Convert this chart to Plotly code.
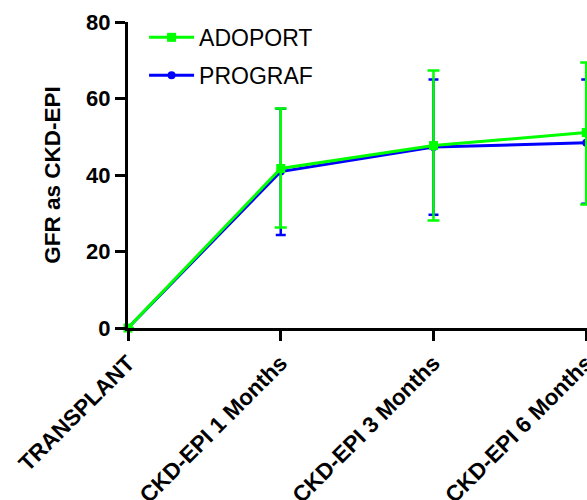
import plotly.graph_objects as go

categories = ["TRANSPLANT", "CKD-EPI 1 Months", "CKD-EPI 3 Months", "CKD-EPI 6 Months"]
adoport_mean = [0, 41.7, 47.7, 51.1]
adoport_upper = [0, 57.4, 67.3, 69.4]
adoport_lower = [0, 26.3, 28.1, 32.3]
prograf_mean = [0, 40.9, 47.3, 48.4]
prograf_upper = [0, 57.3, 65.0, 65.0]
prograf_lower = [0, 24.3, 29.6, 32.5]

FONT = "Arial, Liberation Sans, sans-serif"

def err(mean, up, lo):
    return dict(type="data", symmetric=False,
                array=[u - m for u, m in zip(up, mean)],
                arrayminus=[m - l for m, l in zip(mean, lo)])

fig = go.Figure()
fig.add_trace(go.Scatter(
    x=categories, y=prograf_mean, name="PROGRAF", mode="lines+markers",
    legendgroup="b", legendrank=2,
    line=dict(color="#0000ff", width=3),
    marker=dict(symbol="circle", size=8, color="#0000ff"),
    error_y=dict(**err(prograf_mean, prograf_upper, prograf_lower), color="#0000ff", thickness=2.5, width=5),
    cliponaxis=False,
))
fig.add_trace(go.Scatter(
    x=categories, y=adoport_mean, name="ADOPORT", mode="lines+markers",
    legendgroup="a", legendrank=1,
    line=dict(color="#00ff00", width=3),
    marker=dict(symbol="square", size=9, color="#00ff00"),
    error_y=dict(**err(adoport_mean, adoport_upper, adoport_lower), color="#00ff00", thickness=2.5, width=6),
    cliponaxis=False,
))

fig.update_layout(
    width=587, height=500,
    margin=dict(l=128, r=0, t=22, b=172),
    paper_bgcolor="white", plot_bgcolor="white",
    font=dict(family=FONT, color="black"),
    showlegend=True,
    legend=dict(x=0.035, y=1.02, xanchor="left", yanchor="top",
                tracegroupgap=5,
                font=dict(size=23, family=FONT, color="black"),
                bgcolor="rgba(0,0,0,0)", itemwidth=45),
    xaxis=dict(type="category", categoryorder="array", categoryarray=categories,
               range=[0, 3.005], showgrid=False, zeroline=False, automargin=False,
               showline=True, linecolor="black", linewidth=3,
               ticks="outside", ticklen=10, tickwidth=3, tickcolor="black",
               tickangle=-45,
               tickfont=dict(size=22.5, family=FONT, color="black", weight="bold")),
    yaxis=dict(range=[0, 80], tickvals=[0, 20, 40, 60, 80], showgrid=False, zeroline=False,
               automargin=False,
               showline=True, linecolor="black", linewidth=3,
               ticks="outside", ticklen=10, tickwidth=3, tickcolor="black",
               tickfont=dict(size=22, family=FONT, color="black", weight="bold"),
               title=dict(text="GFR as CKD-EPI", standoff=20,
                          font=dict(size=22.5, family=FONT, color="black", weight="bold"))),
)

fig.write_html("out.html")
